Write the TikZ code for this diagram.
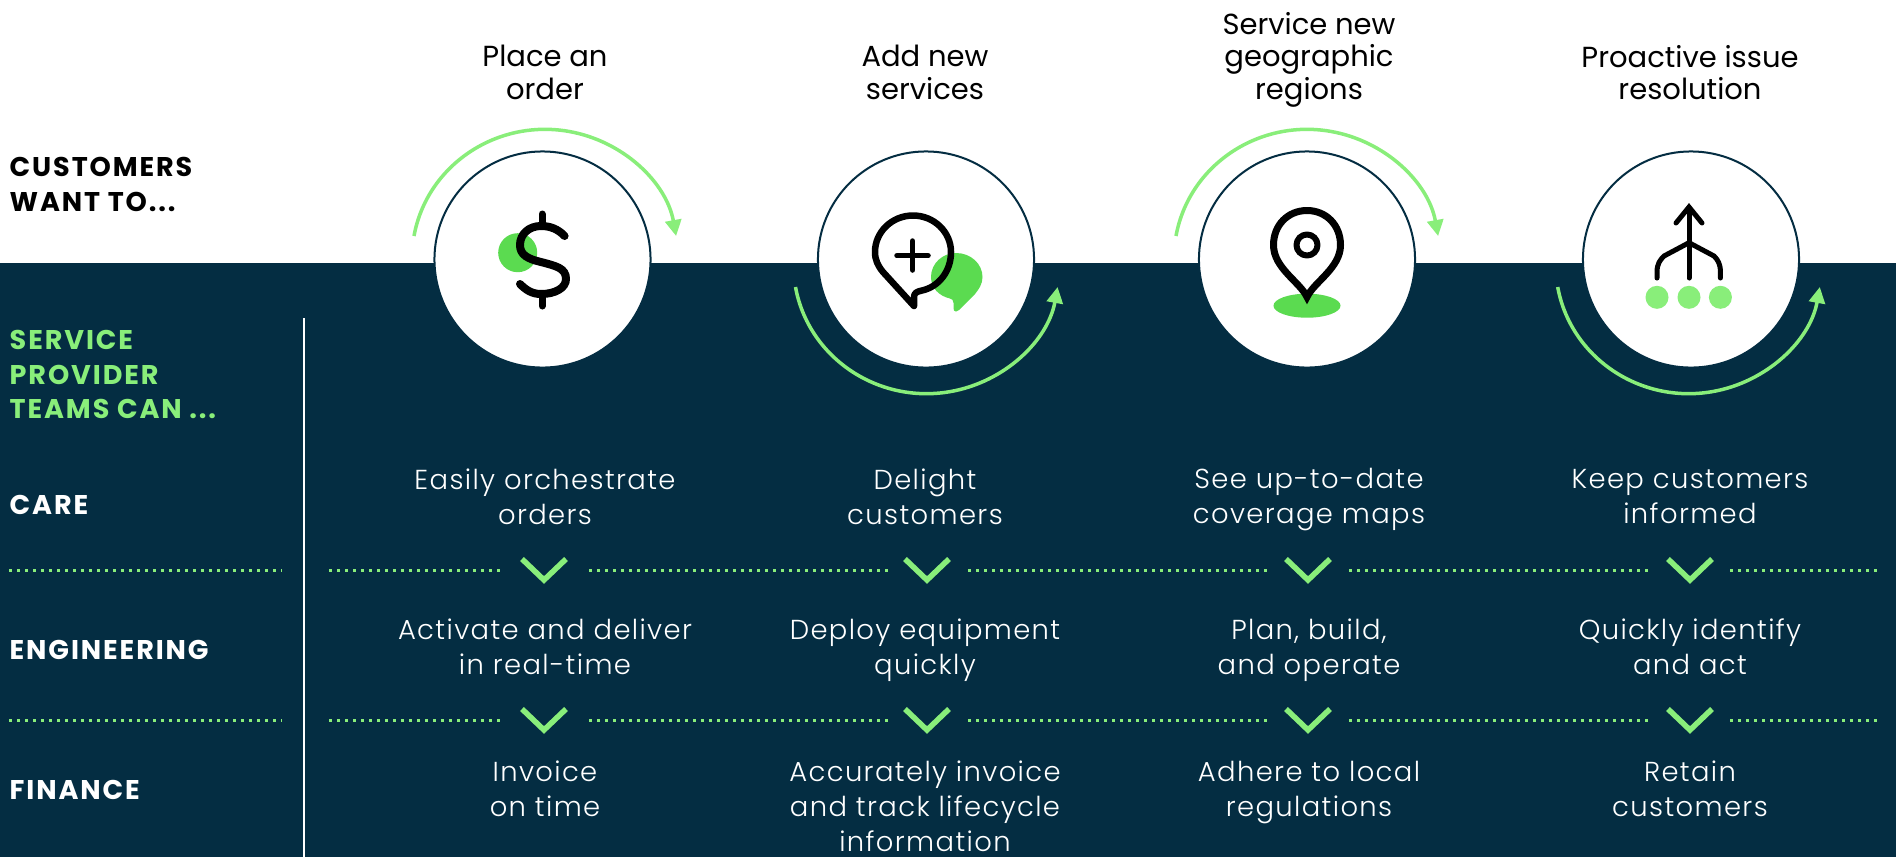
\documentclass[tikz,border=0pt]{standalone}
\usepackage{fontspec}
\setmainfont{Poppins}
\newfontfamily\bodyfont[LetterSpace=5]{Poppins Light}
\newfontfamily\headfont{Poppins}
\newfontfamily\sidefont[LetterSpace=7]{Poppins}
\usetikzlibrary{arrows.meta}
\definecolor{navy}{HTML}{042D42}
\definecolor{leaf}{HTML}{89EE7A}
\definecolor{blob}{HTML}{5BDB50}
\tikzset{
  bubble/.style={circle,draw=navy,fill=white,line width=0.02cm,minimum size=2.16cm,inner sep=0},
  swoop/.style={draw=leaf,line width=0.035cm,-{Triangle[length=0.16cm,width=0.16cm]}},
  icon/.style={draw=black,line width=0.065cm,line cap=round,line join=round},
  rule/.style={draw=leaf,line width=0.025cm,dash pattern=on 0.025cm off 0.055cm},
  chevron/.style={draw=leaf,line width=0.055cm,line join=miter},
  asktext/.style={text=black,align=center,inner sep=0,font=\headfont\fontsize{8.25}{9.2}\selectfont,
    execute at begin node=\strut,execute at end node=\strut},
  celltext/.style={text=white,align=center,inner sep=0,font=\bodyfont\fontsize{7.8}{9.95}\selectfont,
    execute at begin node=\strut,execute at end node=\strut},
  sidetext/.style={anchor=west,align=left,inner sep=0,font=\sidefont\bfseries\fontsize{7.7}{9.9}\selectfont}
}
\begin{document}
\begin{tikzpicture}[x=0.01cm,y=-0.01cm]
        \useasboundingbox (0,0) rectangle (1896,857);
        \fill[white] (0,0) rectangle (1896,857);
        \fill[navy] (0,263) rectangle (1896,857);
        \draw[white,line width=0.015cm] (304,318)--(304,857);
        % top row
        \draw[swoop] (414,236) arc[start angle=170,end angle=10,x radius=1.33cm,y radius=1.29cm];
        \draw[swoop] (795.5,287) arc[start angle=190,end angle=350,x radius=1.33cm,y radius=1.29cm];
        \draw[swoop] (1176,236) arc[start angle=170,end angle=10,x radius=1.33cm,y radius=1.29cm];
        \draw[swoop] (1557.7,287) arc[start angle=190,end angle=350,x radius=1.33cm,y radius=1.29cm];
        \node[bubble] (order) at (542.5,259.5) {};
        \node[bubble] (services) at (926,259.5) {};
        \node[bubble] (regions) at (1307,259.5) {};
        \node[bubble] (issue) at (1691,259.5) {};
        \node[asktext] (ask1) at (545,77) {Place an\\order};
        \node[asktext] (ask2) at (925,77) {Add new\\services};
        \node[asktext] (ask3) at (1309,60.5) {Service new\\geographic\\regions};
        \node[asktext] (ask4) at (1690,77) {Proactive issue\\resolution};
        % dollar
        \fill[blob] (517.7,252.7) circle[radius=0.195cm];
        \draw[icon,line width=0.08cm] (564.6,236) .. controls (558,229) and (550,226) .. (541,226) .. controls (529,226) and (520,234) .. (520,245) .. controls (520,255) and (528,259) .. (541,262) .. controls (556,266) and (566,268) .. (566,279) .. controls (566,288) and (555,294) .. (541,294) .. controls (532,294) and (526,290) .. (520,284);
        \draw[icon,line width=0.07cm] (542,214)--(542,226);
        \draw[icon,line width=0.07cm] (542,294)--(542,306);
        % speech bubbles
        \fill[blob] (956,311.5) .. controls (954,311.5) and (953.5,310) .. (953.5,308) -- (953.5,303) .. controls (953.5,300) and (952,299) .. (950,298.5) .. controls (939,296) and (931,288) .. (931,277) .. controls (931,263) and (943,253) .. (956,253) .. controls (971,253) and (982.5,264) .. (982.5,277) .. controls (982.5,284) and (979,289) .. (975,294) -- (959,310) .. controls (958,311) and (957,311.5) .. (956,311.5) -- cycle;
        \draw[icon] (914,306) -- (883,272) .. controls (878,266) and (875,260) .. (875,252) .. controls (875,232) and (892,215.5) .. (913,215.5) .. controls (934,215.5) and (951,232) .. (951,252) .. controls (951,272) and (938,287) .. (922,290.5) .. controls (917,291.5) and (914,293) .. (914,297) -- cycle;
        \draw[icon,line width=0.055cm] (897,255.7)--(928,255.7);
        \draw[icon,line width=0.055cm] (912.6,241)--(912.6,270);
        % pin
        \fill[blob] (1307,305.7) ellipse[x radius=0.335cm,y radius=0.12cm];
        \draw[icon,line width=0.07cm,line cap=butt,line join=miter] (1307,297) .. controls (1300,282) and (1273.5,268) .. (1273.5,245) .. controls (1273.5,225) and (1288,210.5) .. (1307,210.5) .. controls (1326,210.5) and (1340.5,225) .. (1340.5,245) .. controls (1340.5,268) and (1314,282) .. (1307,297) -- cycle;
        \draw[icon,line width=0.06cm] (1307,245) circle[radius=0.105cm];
        % merge arrow
        \draw[icon,line width=0.05cm] (1689,278)--(1689,209);
        \draw[icon,line width=0.05cm,line join=miter] (1676,223)--(1689,207)--(1702,223);
        \draw[icon,line width=0.05cm] (1657,278)--(1657,272) .. controls (1657,264) and (1660,260) .. (1664,256) -- (1689,242.7) -- (1714,256) .. controls (1718,260) and (1720.4,264) .. (1720.4,272) -- (1720.4,278);
        \fill[leaf] (1657,297.3) circle[radius=0.115cm];
        \fill[leaf] (1689,297.3) circle[radius=0.115cm];
        \fill[leaf] (1720.4,297.3) circle[radius=0.115cm];
        % side labels
        \node[sidetext,text=black] (want) at (9,184.5) {CUSTOMERS\\WANT TO...};
        \node[sidetext,text=leaf] (teams) at (9,374.5) {SERVICE\\PROVIDER\\TEAMS CAN ...};
        \node[sidetext,text=white] (care) at (9,505) {CARE};
        \node[sidetext,text=white] (engineering) at (9,650) {ENGINEERING};
        \node[sidetext,text=white] (finance) at (9,790) {FINANCE};
        % care row
        \node[celltext] (care1) at (545,501.5) {Easily orchestrate\\orders};
        \node[celltext] (care2) at (925,501.5) {Delight\\customers};
        \node[celltext] (care3) at (1309,501.5) {See up-to-date\\coverage maps};
        \node[celltext] (care4) at (1690,501.5) {Keep customers\\informed};
        % engineering row
        \node[celltext] (eng1) at (545,651.5) {Activate and deliver\\in real-time};
        \node[celltext] (eng2) at (925,651.5) {Deploy equipment\\quickly};
        \node[celltext] (eng3) at (1309,651.5) {Plan, build,\\and operate};
        \node[celltext] (eng4) at (1690,651.5) {Quickly identify\\and act};
        % finance row
        \node[celltext] (fin1) at (545,794) {Invoice\\on time};
        \node[celltext] (fin2) at (925,811) {Accurately invoice\\and track lifecycle\\information};
        \node[celltext] (fin3) at (1309,794) {Adhere to local\\regulations};
        \node[celltext] (fin4) at (1690,794) {Retain\\customers};
        % dotted rules
        \draw[rule] (9,570.7)--(282,570.7);
        \draw[rule] (329,570.7)--(500,570.7);
        \draw[rule] (589,570.7)--(891,570.7);
        \draw[rule] (968,570.7)--(1272,570.7);
        \draw[rule] (1349,570.7)--(1651,570.7);
        \draw[rule] (1730,570.7)--(1882,570.7);
        \draw[rule] (9,720.7)--(282,720.7);
        \draw[rule] (329,720.7)--(500,720.7);
        \draw[rule] (589,720.7)--(891,720.7);
        \draw[rule] (968,720.7)--(1272,720.7);
        \draw[rule] (1349,720.7)--(1651,720.7);
        \draw[rule] (1730,720.7)--(1882,720.7);
        % chevrons
        \draw[chevron] (522,559)--(544,580)--(566,559);
        \draw[chevron] (905,559)--(927,580)--(949,559);
        \draw[chevron] (1286,559)--(1308,580)--(1330,559);
        \draw[chevron] (1668,559)--(1690,580)--(1712,559);
        \draw[chevron] (522,709)--(544,730)--(566,709);
        \draw[chevron] (905,709)--(927,730)--(949,709);
        \draw[chevron] (1286,709)--(1308,730)--(1330,709);
        \draw[chevron] (1668,709)--(1690,730)--(1712,709);
    \end{tikzpicture}
\end{document}
